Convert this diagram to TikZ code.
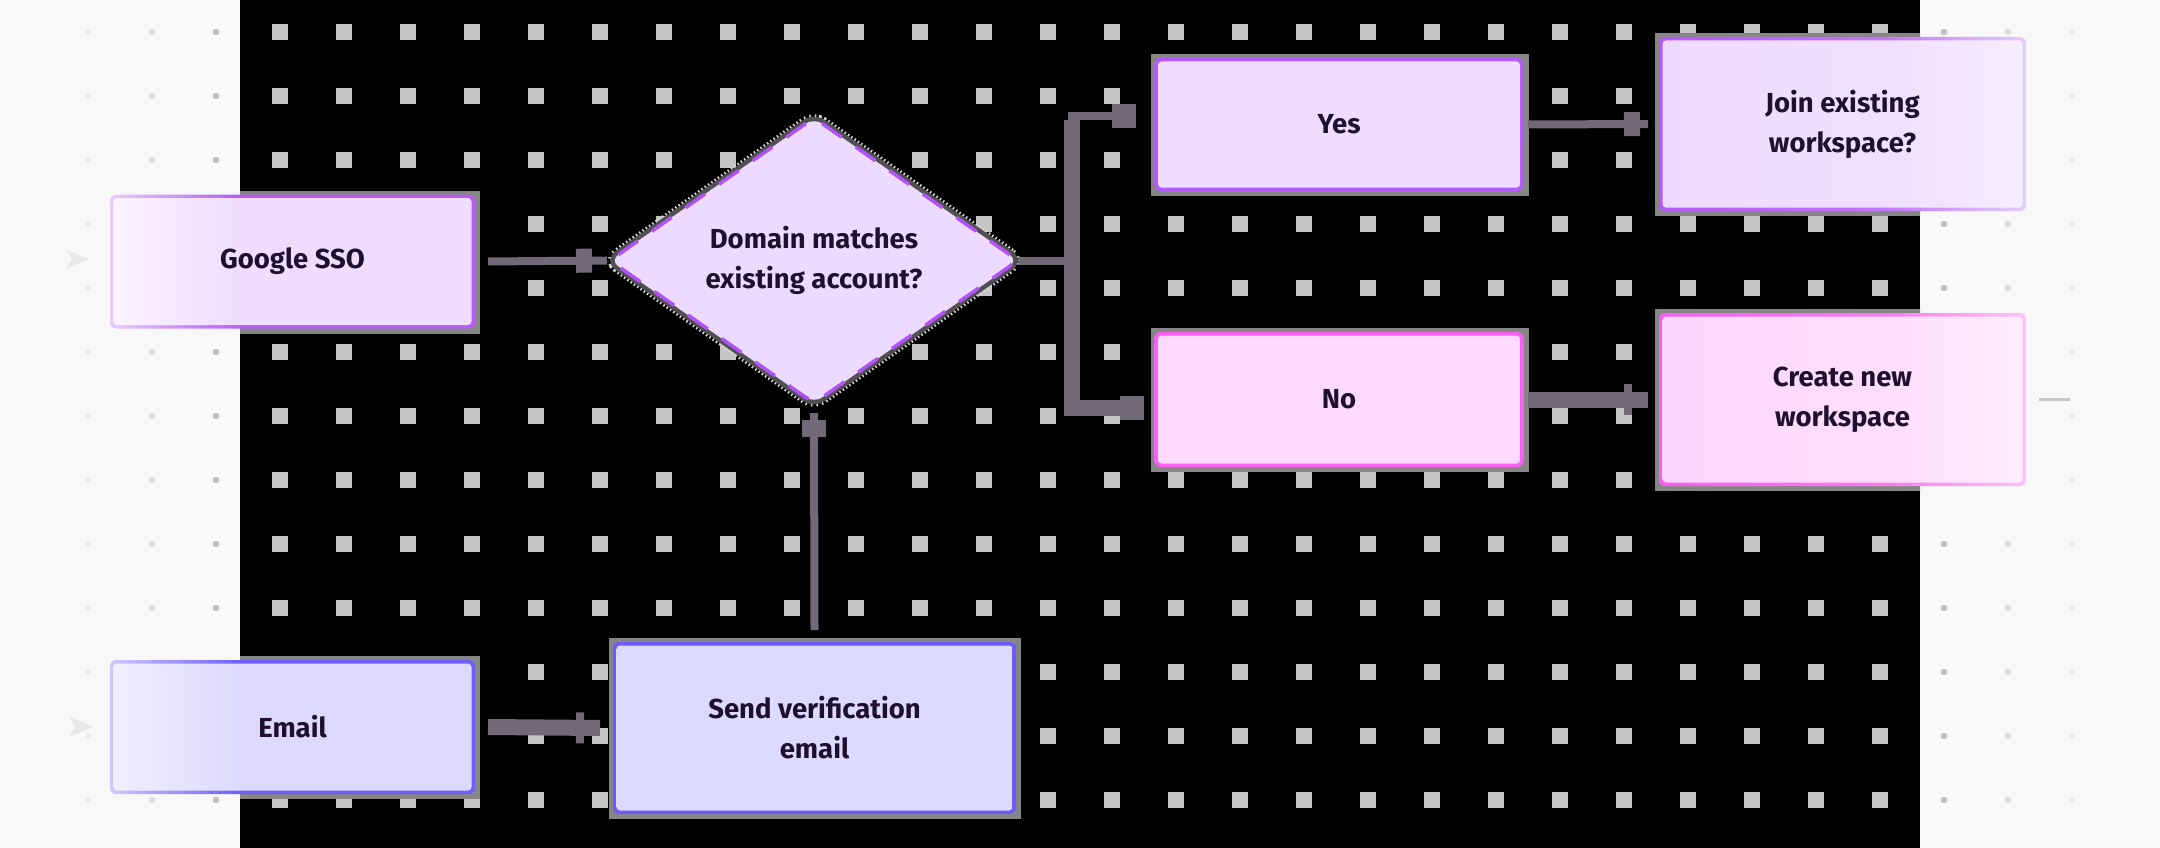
\documentclass[tikz,border=0pt]{standalone}
\usepackage{fontspec}
\setmainfont{Fira Sans}
\usetikzlibrary{shapes.geometric,calc,decorations.markings}

\definecolor{bglight}{HTML}{F8F8F8}
\definecolor{gridsq}{HTML}{C4C4C4}
\definecolor{backc}{HTML}{868686}
\definecolor{flowc}{HTML}{6F6A76}
\definecolor{txt}{HTML}{1F1030}
\definecolor{dotA}{HTML}{C6C6C6}
\definecolor{dotB}{HTML}{D9D9D9}
\definecolor{dotC}{HTML}{ECECEC}
\definecolor{ghost}{HTML}{E8E8E8}
\definecolor{diafill}{HTML}{ECDBFE}
\definecolor{diadash}{HTML}{B152F7}
\definecolor{diaout}{HTML}{505050}
\definecolor{diaspeck}{HTML}{D8D8D8}
% box colours
\definecolor{ssoBa}{HTML}{E6CDFB}
\definecolor{ssoBb}{HTML}{B65BF6}
\definecolor{ssoFa}{HTML}{FBF4FE}
\definecolor{ssoFb}{HTML}{EFDCFE}
\definecolor{emBa}{HTML}{CEC9FC}
\definecolor{emBb}{HTML}{6C5EF7}
\definecolor{emFa}{HTML}{F0EFFE}
\definecolor{emFb}{HTML}{DDDAFE}
\definecolor{sendB}{HTML}{6A5CF8}
\definecolor{sendF}{HTML}{DCDAFE}
\definecolor{yesB}{HTML}{B35AF7}
\definecolor{yesF}{HTML}{EFDCFE}
\definecolor{noB}{HTML}{FB5EF3}
\definecolor{noF}{HTML}{FDD9FD}
\definecolor{joBa}{HTML}{B35AF7}
\definecolor{joBb}{HTML}{C274F7}
\definecolor{joBc}{HTML}{E3CEFB}
\definecolor{joFa}{HTML}{EEDAFE}
\definecolor{joFb}{HTML}{F0E0FE}
\definecolor{joFc}{HTML}{F5EEFD}
\definecolor{crBa}{HTML}{FB5CF2}
\definecolor{crBb}{HTML}{FB78F3}
\definecolor{crBc}{HTML}{FCC2F6}
\definecolor{crFa}{HTML}{FDD7FD}
\definecolor{crFb}{HTML}{FDDEFC}
\definecolor{crFc}{HTML}{FDEEFB}

% shadings (25bp..75bp spans the path)
\pgfdeclarehorizontalshading{ssoB}{100bp}{color(0bp)=(ssoBa); color(25bp)=(ssoBa); color(43bp)=(ssoBb); color(100bp)=(ssoBb)}
\pgfdeclarehorizontalshading{ssoF}{100bp}{color(0bp)=(ssoFa); color(25bp)=(ssoFa); color(43bp)=(ssoFb); color(100bp)=(ssoFb)}
\pgfdeclarehorizontalshading{emB}{100bp}{color(0bp)=(emBa); color(25bp)=(emBa); color(43bp)=(emBb); color(100bp)=(emBb)}
\pgfdeclarehorizontalshading{emF}{100bp}{color(0bp)=(emFa); color(25bp)=(emFa); color(43bp)=(emFb); color(100bp)=(emFb)}
\pgfdeclarehorizontalshading{sendB}{100bp}{color(0bp)=(sendB); color(100bp)=(sendB)}
\pgfdeclarehorizontalshading{sendF}{100bp}{color(0bp)=(sendF); color(100bp)=(sendF)}
\pgfdeclarehorizontalshading{yesB}{100bp}{color(0bp)=(yesB); color(100bp)=(yesB)}
\pgfdeclarehorizontalshading{yesF}{100bp}{color(0bp)=(yesF); color(100bp)=(yesF)}
\pgfdeclarehorizontalshading{noB}{100bp}{color(0bp)=(noB); color(100bp)=(noB)}
\pgfdeclarehorizontalshading{noF}{100bp}{color(0bp)=(noF); color(100bp)=(noF)}
\pgfdeclarehorizontalshading{joB}{100bp}{color(0bp)=(joBa); color(25bp)=(joBa); color(55bp)=(joBb); color(75bp)=(joBc); color(100bp)=(joBc)}
\pgfdeclarehorizontalshading{joF}{100bp}{color(0bp)=(joFa); color(25bp)=(joFa); color(57bp)=(joFb); color(75bp)=(joFc); color(100bp)=(joFc)}
\pgfdeclarehorizontalshading{crB}{100bp}{color(0bp)=(crBa); color(25bp)=(crBa); color(55bp)=(crBb); color(75bp)=(crBc); color(100bp)=(crBc)}
\pgfdeclarehorizontalshading{crF}{100bp}{color(0bp)=(crFa); color(25bp)=(crFa); color(57bp)=(crFb); color(75bp)=(crFc); color(100bp)=(crFc)}

\newcommand\boxfont{\fontsize{27.5}{40}\selectfont\bfseries}

\pgfdeclarelayer{back}
\pgfdeclarelayer{mid}
\pgfsetlayers{back,mid,main}

\begin{document}
\begin{tikzpicture}[x=1pt,y=-1pt,
  box/.style n args={4}{rectangle, rounded corners=6pt, minimum width=#1, minimum height=#2,
    inner sep=0pt, outer sep=0pt, align=center, text=txt, font=\boxfont, shade, shading=#3,
    path picture={\shade[shading=#4, rounded corners=3.5pt]
      ([shift={(3.5pt,-3.5pt)}]path picture bounding box.north west) rectangle
      ([shift={(-3.5pt,3.5pt)}]path picture bounding box.south east);}},
  decision/.style={diamond, minimum width=408pt, minimum height=275pt, inner sep=0pt, outer sep=0pt,
    rounded corners=10pt, align=center, text=txt, font=\boxfont, fill=diafill,
    draw=diadash, line width=3.5pt, dash pattern=on 24pt off 17pt,
    preaction={draw=diaspeck, line width=14pt, dash pattern=on 1.5pt off 2.5pt},
    preaction={draw=diaout, line width=9pt, solid}},
  flowthin/.style={draw=flowc, line width=8pt},
  flowthick/.style={draw=flowc, line width=16pt},
  tipblock/.style n args={3}{postaction={decorate, decoration={markings,
    mark=at position 1 with {\fill[flowc] (-#1-#3,-#2/2) rectangle (-#3,#2/2);}}}}
]
\useasboundingbox (0,0) rectangle (2160,848);

\begin{pgfonlayer}{back}
  \fill[bglight] (0,0) rectangle (2160,848);
  \fill[black] (240,0) rectangle (1920,848);
  \foreach \i in {0,...,25}{
    \foreach \j in {0,...,12}{
      \fill[gridsq] ({272+64*\i},{24+64*\j}) rectangle ++(16,16);
    }
  }
  \foreach \j in {0,...,12}{
    \fill[dotA] (216,{32+64*\j}) circle (3.5pt);
    \fill[dotB] (152,{32+64*\j}) circle (3pt);
    \fill[dotC] (88,{32+64*\j}) circle (3pt);
    \fill[dotA] (1944,{32+64*\j}) circle (3.5pt);
    \fill[dotB] (2008,{32+64*\j}) circle (3pt);
    \fill[dotC] (2072,{32+64*\j}) circle (3pt);
  }
  % faint ghost marks
  \fill[ghost] (66,250) -- (89,259) -- (66,269) -- (72,259) -- cycle;
  \fill[ghost] (69,716) -- (93,727) -- (69,737) -- (75,727) -- cycle;
  \fill[dotA] (2039,397.5) rectangle (2070,400.5);
\end{pgfonlayer}

% nodes
\node[box={365pt}{134pt}{ssoB}{ssoF}] (gsso) at (292.5,261.5) {Google SSO};
\node[box={365pt}{134pt}{emB}{emF}] (email) at (292.5,727) {Email};
\node[box={403pt}{172pt}{sendB}{sendF}] (send) at (814.5,728) {Send verification\\email};
\node[decision] (dia) at (814,260.5) {Domain matches\\existing account?};
\node[box={369pt}{133pt}{yesB}{yesF}] (yes) at (1339,124.5) {Yes};
\node[box={369pt}{135pt}{noB}{noF}] (no) at (1339,399.5) {No};
\node[box={367pt}{174pt}{joB}{joF}] (join) at (1842.5,124) {Join existing\\workspace?};
\node[box={367pt}{173pt}{crB}{crF}] (create) at (1842.5,399.5) {Create new\\workspace};

% grey backings behind boxes (only visible over the black area)
\begin{pgfonlayer}{mid}
  \begin{scope}
    \clip (240,0) rectangle (1920,848);
    \foreach \n in {gsso,email,send,yes,no,join,create}{
      \fill[backc] ([shift={(-4pt,4pt)}]\n.north west) rectangle ([shift={(5pt,-5pt)}]\n.south east);
    }
  \end{scope}
\end{pgfonlayer}

% connectors
\coordinate (jn) at (1072,260.5);
\coordinate (yesEnd) at ([xshift=-18.5pt,yshift=8.5pt]yes.west);
\coordinate (noEnd) at ([xshift=-10.5pt,yshift=-8pt]no.west);

\draw[flowthin, tipblock={16pt}{24pt}{15pt}] ([xshift=13pt]gsso.east) -- ([xshift=-3pt]dia.west);
\draw[flowthick, tipblock={8pt}{31pt}{16pt}] ([xshift=13pt]email.east) -- ([xshift=-13pt]send.west);
\draw[flowthin, tipblock={17pt}{24pt}{7pt}] ([yshift=12pt]send.north) -- ([yshift=-10pt]dia.south);
\draw[flowthin] (dia.east) -- (jn);
\draw[flowthin, tipblock={24pt}{24pt}{0pt}] (jn) |- (yesEnd);
\draw[flowthick, tipblock={24pt}{24pt}{0pt}] ($(jn |- yesEnd)+(0,4)$) |- (noEnd);
\draw[flowthin, tipblock={16pt}{24pt}{8pt}] ([xshift=4.5pt]yes.east) -- ([xshift=-11pt]join.west);
\draw[flowthick, tipblock={8pt}{31pt}{16pt}] ([xshift=4.5pt]no.east) -- ([xshift=-11pt]create.west);
\end{tikzpicture}
\end{document}
